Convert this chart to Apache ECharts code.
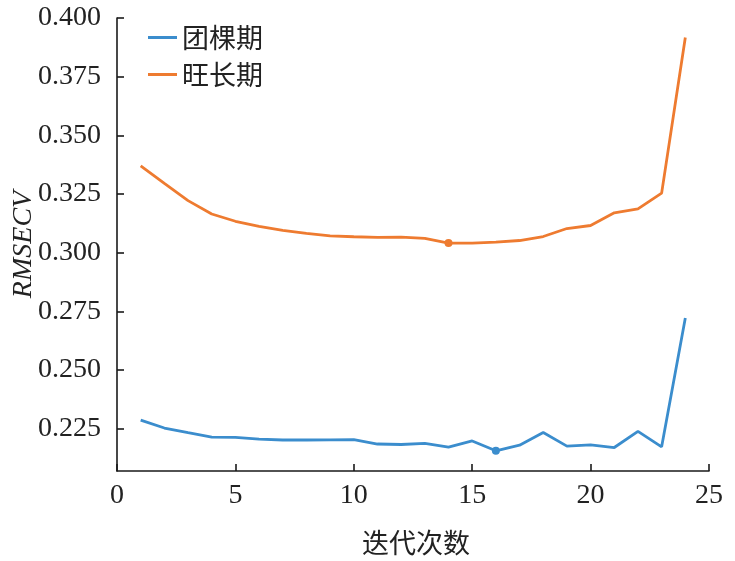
<!DOCTYPE html>
<html>
<head>
<meta charset="utf-8">
<script src="https://cdn.jsdelivr.net/npm/echarts@6/dist/echarts.min.js"></script>
<style>
html,body{margin:0;padding:0;background:#fff;}
#chart{width:735px;height:561px;}
</style>
</head>
<body>
<div id="chart"></div>
<script>
const iterations = [1,2,3,4,5,6,7,8,9,10,11,12,13,14,15,16,17,18,19,20,21,22,23,24];
const tuankeName = '团棵期';
const tuanke = [0.2287,0.2253,0.2233,0.2214,0.2213,0.2206,0.2202,0.2202,0.2203,0.2204,0.2185,0.2183,0.2188,0.2172,0.2198,0.2156,0.2180,0.2234,0.2176,0.2181,0.2170,0.2239,0.2173,0.2722];
const wangzhangName = '旺长期';
const wangzhang = [0.3370,0.3295,0.3222,0.3165,0.3134,0.3112,0.3095,0.3082,0.3072,0.3068,0.3065,0.3066,0.3061,0.3041,0.3041,0.3045,0.3052,0.3069,0.3103,0.3116,0.3170,0.3187,0.3254,0.3917];
const tuankeBest = 16;
const wangzhangBest = 14;
const yTicks = [0.225,0.250,0.275,0.300,0.325,0.350,0.375,0.400];
const xTicks = [0,5,10,15,20,25];

const serif = '"Liberation Serif","DejaVu Serif",serif';
const cjk = '"Noto Sans CJK SC","Liberation Serif",serif';
const axisColor = '#1a1a1a';

function build(vals, best){
  return iterations.map((x,i)=>({
    value:[x, vals[i]],
    symbol: x===best ? 'circle' : 'none',
    symbolSize: 8
  }));
}

const chart = echarts.init(document.getElementById('chart'), null, {renderer:'canvas'});
chart.setOption({
  animation:false,
  backgroundColor:'#fff',
  grid:{left:117,right:26,top:18,bottom:90,containLabel:false,outerBoundsMode:'none'},
  legend:{
    orient:'vertical',
    left:143, top:19,
    itemWidth:29, itemHeight:3, itemGap:10,
    icon:'rect',
    textStyle:{fontFamily:cjk,fontSize:27,color:'#222'},
    data:[tuankeName, wangzhangName]
  },
  xAxis:{
    type:'value', min:0, max:25, interval:5,
    name:'迭代次数', nameLocation:'middle', nameGap:58, nameMoveOverlap:false,
    nameTextStyle:{fontFamily:cjk,fontSize:27,color:'#222',padding:[0,0,0,6]},
    axisLine:{show:true,lineStyle:{color:axisColor,width:1.6}},
    axisTick:{show:true,inside:true,length:7,lineStyle:{color:axisColor,width:1.6}},
    axisLabel:{fontFamily:serif,fontSize:28,color:'#222',margin:11},
    splitLine:{show:false}
  },
  yAxis:{
    type:'value', min:0.207, max:0.4,
    name:'RMSECV', nameLocation:'middle', nameGap:79, nameRotate:90, nameMoveOverlap:false,
    nameTextStyle:{fontFamily:serif,fontSize:28,fontStyle:'italic',color:'#222'},
    axisLine:{show:true,lineStyle:{color:axisColor,width:1.6}},
    axisTick:{show:true,inside:true,length:7,customValues:yTicks,lineStyle:{color:axisColor,width:1.6}},
    axisLabel:{fontFamily:serif,fontSize:28,color:'#222',margin:16,customValues:yTicks,
      formatter:v=>Number(v).toFixed(3)},
    splitLine:{show:false}
  },
  series:[
    {name:tuankeName,type:'line',data:build(tuanke,tuankeBest),
     color:'#3b8dcd',lineStyle:{width:2.8,color:'#3b8dcd'},itemStyle:{color:'#3b8dcd'},showSymbol:true},
    {name:wangzhangName,type:'line',data:build(wangzhang,wangzhangBest),
     color:'#ee7b30',lineStyle:{width:2.8,color:'#ee7b30'},itemStyle:{color:'#ee7b30'},showSymbol:true}
  ]
});
</script>
</body>
</html>
